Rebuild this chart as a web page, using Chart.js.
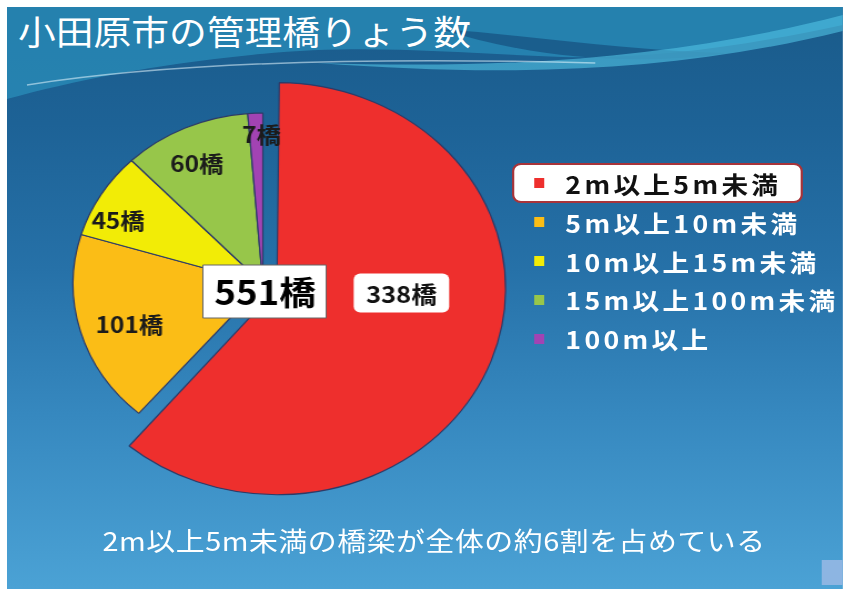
<!DOCTYPE html>
<html>
<head>
<meta charset="utf-8">
<script src="https://cdn.jsdelivr.net/npm/chart.js@4.4.0/dist/chart.umd.min.js"></script>
<style>
  html, body { margin: 0; padding: 0; background: #fff; width: 845px; height: 589px; overflow: hidden; }
  /* the slide in the picture is stretched sideways, so build it narrow and widen it */
  #slide {
    position: absolute; left: 7px; top: 7px; width: 753px; height: 582px;
    transform: scaleX(1.11); transform-origin: 0 0; overflow: hidden;
    background: linear-gradient(to bottom, #1a5b8a 0%, #1d6296 20%, #2671a8 45%, #3688bf 70%, #4ba2d5 100%);
    font-family: "Noto Sans CJK JP", "Noto Sans", sans-serif;
  }
  #wave { position: absolute; left: 0; top: 0; }
  #title { position: absolute; left: 10px; top: 3px; color: #fff; font-size: 34px; line-height: 42px; white-space: nowrap; }
  #pie { position: absolute; left: 0; top: 0; }
  #legend { position: absolute; left: 455px; top: 156px; }
  .row { display: flex; align-items: center; height: 38.75px; box-sizing: border-box; width: 262px;
         color: #fff; font-size: 24px; font-weight: bold; letter-spacing: 3px; white-space: nowrap; }
  .row.hl { background: #fff; color: #111; border: 2px solid #a8343a; border-radius: 8px; height: 40px; }
  .mark { width: 9px; height: 10px; margin-left: 20px; margin-right: 19px; flex: none; }
  .row.hl .mark { margin-left: 18px; }
  #note { position: absolute; left: 86px; top: 518px; color: #fff; font-size: 26px; line-height: 30px; letter-spacing: 0.5px; white-space: nowrap; }
  #corner { position: absolute; left: 734px; top: 553px; width: 19px; height: 25px; background: #8db5e2; }
</style>
</head>
<body>
<div id="slide">
  <svg id="wave" width="753" height="120" viewBox="0 0 753 120">
    <path d="M0,0 H753 V18 C660,40 580,52 500,50 C400,46 320,36 220,48 C130,58 60,74 0,92 Z" fill="#2a8dba" opacity="0.75"/>
    <path d="M390,22 C470,28 560,44 650,46 C560,60 470,50 390,22 Z" fill="#15507f" opacity="0.7"/>
    <path d="M280,56 C450,62 600,52 753,8 L753,24 C600,66 450,70 280,56 Z" fill="#52c3e4" opacity="0.6"/>
    <path d="M18,78 C150,55 330,50 530,56" stroke="#e8f8ff" stroke-width="1.5" fill="none" opacity="0.55"/>
  </svg>
  <div id="title">小田原市の管理橋りょう数</div>
  <canvas id="pie" width="461" height="554"></canvas>
  <div id="legend"></div>
  <div id="note">2m以上5m未満の橋梁が全体の約6割を占めている</div>
  <div id="corner"></div>
</div>
<script>
const categories = ['2m以上5m未満', '5m以上10m未満', '10m以上15m未満', '15m以上100m未満', '100m以上'];
const bridgeCounts = [338, 101, 45, 60, 7];
const sliceColors = ['#ee2f2d', '#fbbd16', '#f2ec06', '#97c64a', '#a243b3'];
const unit = '橋';

// where each count label sits: [fraction of the slice angle, fraction of the radius]
const labelSpots = [[0.426, 0.65], [0.47, 0.74], [0.32, 0.85], [0.45, 0.79], [0.9, 0.88]];
const bigSliceScale = 1.126; // the pulled-out slice is drawn larger than the rest

function roundBox(ctx, cx, cy, w, h, r) {
    ctx.beginPath();
    ctx.roundRect(cx - w / 2, cy - h / 2, w, h, r);
}

const bigSlice = {
    id: 'bigSlice',
    afterDatasetUpdate(chart, args) {
        const arc = chart.getDatasetMeta(args.index).data[0];
        arc.outerRadius = arc.outerRadius * bigSliceScale;
    }
};

const sliceLabels = {
    id: 'sliceLabels',
    afterDatasetsDraw(chart) {
        const ctx = chart.ctx;
        const meta = chart.getDatasetMeta(0);
        const values = chart.data.datasets[0].data;
        ctx.save();
        ctx.textAlign = 'center';
        ctx.textBaseline = 'middle';
        meta.data.forEach((arc, i) => {
            const a = arc.startAngle + (arc.endAngle - arc.startAngle) * labelSpots[i][0];
            const r = arc.outerRadius * labelSpots[i][1];
            const px = arc.x + Math.cos(a) * r;
            const py = arc.y + Math.sin(a) * r;
            if (i === 0) {
                roundBox(ctx, px, py, 86, 39, 6);
                ctx.fillStyle = '#fff';
                ctx.fill();
                ctx.font = 'bold 23px "Noto Sans CJK JP", sans-serif';
                ctx.fillStyle = '#111';
            } else {
                ctx.font = 'bold 22px "Noto Sans CJK JP", sans-serif';
                ctx.fillStyle = '#1b1b1b';
            }
            ctx.fillText(values[i] + unit, px, py + 1);
        });
        // total in the middle
        const total = values.reduce((s, v) => s + v, 0);
        const c = meta.data[0];
        ctx.beginPath();
        ctx.rect(c.x - 54, c.y + 7 - 26, 111, 53);
        ctx.fillStyle = '#fff';
        ctx.fill();
        ctx.strokeStyle = '#666';
        ctx.lineWidth = 1;
        ctx.stroke();
        ctx.font = 'bold 33px "Noto Sans CJK JP", sans-serif';
        ctx.fillStyle = '#000';
        ctx.fillText(total + unit, c.x + 2, c.y + 8);
        ctx.restore();
    }
};

const chart = new Chart(document.getElementById('pie'), {
    type: 'pie',
    data: {
        labels: categories,
        datasets: [{
            data: bridgeCounts,
            backgroundColor: sliceColors,
            borderColor: '#2d3b68',
            borderWidth: 1.2,
            offset: (ctx) => ctx.dataIndex === 0 ? 54 : 0,
        }]
    },
    options: {
        responsive: false,
        animation: false,
        events: [],
        radius: 171,
        layout: { padding: 0 },
        plugins: {
            legend: { display: false },
            tooltip: { enabled: false },
        },
    },
    plugins: [bigSlice, sliceLabels]
});

// html legend from the chart's own legend items
const legendEl = document.getElementById('legend');
chart.options.plugins.legend.labels.generateLabels(chart).forEach((item, i) => {
    const row = document.createElement('div');
    row.className = i === 0 ? 'row hl' : 'row';
    const mark = document.createElement('span');
    mark.className = 'mark';
    mark.style.background = item.fillStyle;
    const txt = document.createElement('span');
    txt.textContent = item.text;
    row.appendChild(mark);
    row.appendChild(txt);
    legendEl.appendChild(row);
});
</script>
</body>
</html>
